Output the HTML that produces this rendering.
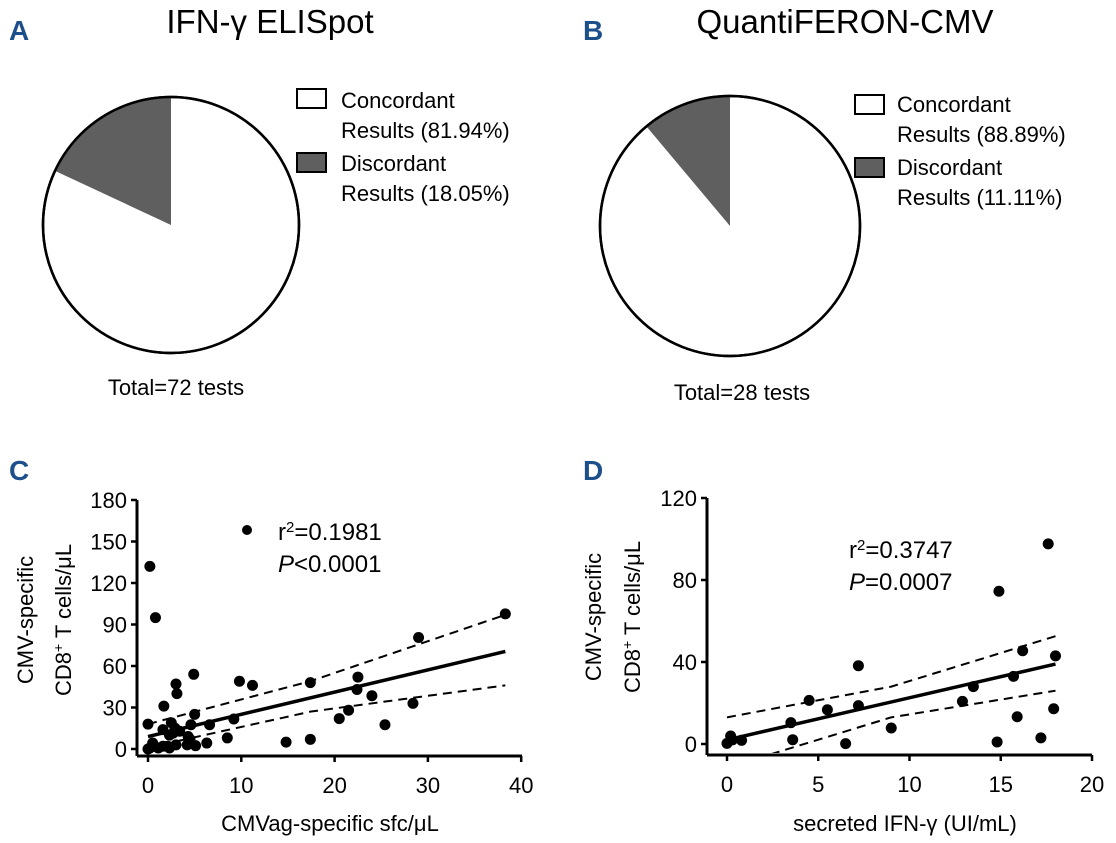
<!DOCTYPE html>
<html><head><meta charset="utf-8"><style>
body{margin:0;background:#fff;}
svg{display:block;font-family:"Liberation Sans",Arial,sans-serif;}
</style></head><body>
<svg id="fig" width="1116" height="843" viewBox="0 0 1116 843" xmlns="http://www.w3.org/2000/svg">
<g fill="#1d4f8a" font-weight="bold" font-size="28">
<text x="9" y="40">A</text>
<text x="583" y="40">B</text>
<text x="9" y="480">C</text>
<text x="583" y="480">D</text>
</g>
<text x="270" y="33" font-size="33" text-anchor="middle">IFN-γ ELISpot</text>
<text x="845" y="33" font-size="33" text-anchor="middle">QuantiFERON-CMV</text>
<g id="pieA"></g>
<g id="pieB"></g>
<g font-size="22">
<rect x="297" y="89" width="29" height="19" fill="#fff" stroke="#000" stroke-width="2"/>
<text x="341" y="108">Concordant</text>
<text x="341" y="138">Results (81.94%)</text>
<rect x="297" y="153" width="29" height="19" fill="#5f5f5f" stroke="#000" stroke-width="2"/>
<text x="341" y="171">Discordant</text>
<text x="341" y="201">Results (18.05%)</text>
<text x="176" y="395" text-anchor="middle">Total=72 tests</text>
<rect x="855" y="95" width="29" height="19" fill="#fff" stroke="#000" stroke-width="2"/>
<text x="897" y="112">Concordant</text>
<text x="897" y="142">Results (88.89%)</text>
<rect x="855" y="158" width="29" height="19" fill="#5f5f5f" stroke="#000" stroke-width="2"/>
<text x="897" y="175">Discordant</text>
<text x="897" y="205">Results (11.11%)</text>
<text x="742" y="400" text-anchor="middle">Total=28 tests</text>
</g>
<g id="chartC"></g>
<g id="chartD"></g>
<g font-size="22">
<text transform="translate(33,620) rotate(-90)" text-anchor="middle">CMV-specific</text>
<text transform="translate(71,620) rotate(-90)" text-anchor="middle">CD8<tspan baseline-shift="super" font-size="14">+</tspan> T cells/μL</text>
<text x="330" y="831" text-anchor="middle">CMVag-specific sfc/μL</text>
<text transform="translate(601,617) rotate(-90)" text-anchor="middle">CMV-specific</text>
<text transform="translate(640,617) rotate(-90)" text-anchor="middle">CD8<tspan baseline-shift="super" font-size="14">+</tspan> T cells/μL</text>
<text x="905" y="831" text-anchor="middle">secreted IFN-γ (UI/mL)</text>
</g>
<g font-size="24">
<circle cx="247" cy="530" r="5" fill="#000"/>
<text x="278" y="540">r<tspan baseline-shift="super" font-size="15">2</tspan>=0.1981</text>
<text x="278" y="572"><tspan font-style="italic">P</tspan>&lt;0.0001</text>
<text x="849" y="558">r<tspan baseline-shift="super" font-size="15">2</tspan>=0.3747</text>
<text x="849" y="590"><tspan font-style="italic">P</tspan>=0.0007</text>
</g>
</svg>
<script>
const pieAValues = [81.94, 18.05];
const pieBValues = [88.89, 11.11];

const cX = [0.2,0.8,38.3,29,4.9,3,3.1,1.7,9.8,11.2,17.4,22.5,22.4,24,21.5,20.5,28.4,25.4,14.8,17.4,8.5,9.2,6.3,6.6,5,4.6,0,1.6,2.5,2.9,2.7,3.4,2.3,3,4.3,4.5,4.2,5.1,0.2,0.5,1.1,1.6,2.1,0,0.7,2.3];
const cY = [132,95,97.7,80.6,54,47,40,31,49,46,48,52,43,38.5,28,22,33,17.5,5,7,8,21.7,4.3,17.5,25,17.5,18,14,19,15,11.5,12.8,10,3,9,7,3,2.4,0.7,4.3,0.7,2,2,0,2,0.7];
const cFitX = [0, 38.3];
const cFitY = [9, 70.5];
const cBandX = [0, 17.4, 38.3];
const cUpper = [18, 49, 97];
const cLower = [1, 27, 46];
const cXTicks = [0, 10, 20, 30, 40];
const cYTicks = [0, 30, 60, 90, 120, 150, 180];

const dX = [17.6,14.9,7.2,18,16.2,15.7,13.5,12.9,15.9,17.9,17.2,14.8,9,7.2,6.5,5.5,4.5,3.5,3.6,0.8,0.2,0,0.3];
const dY = [97.6,74.5,38.2,43,45.5,33,28,20.8,13.3,17.2,3,1,7.8,18.7,0.2,16.7,21.3,10.4,2.1,1.8,3.9,0.3,2];
const dFitX = [0, 18];
const dFitY = [2, 39];
const dUpperX = [0, 9, 18];
const dUpper = [13, 28, 52.6];
const dLowerX = [2.4, 9, 18];
const dLower = [-5, 13, 26];
const dXTicks = [0, 5, 10, 15, 20];
const dYTicks = [0, 40, 80, 120];

const NS = "http://www.w3.org/2000/svg";
function mk(parent, tag, attrs){const e=document.createElementNS(NS,tag);for(const k in attrs)e.setAttribute(k,attrs[k]);parent.appendChild(e);return e;}

function drawPie(gid, cx, cy, r, vals){
  const g=document.getElementById(gid);
  const total=vals.reduce((a,b)=>a+b,0);
  const base=mk(g,'circle',{cx:cx,cy:cy,r:r,fill:'#fff',stroke:'#000','stroke-width':2.5});
  
  
  const a=vals[1]/total*2*Math.PI;
  const x2=cx-r*Math.sin(a), y2=cy-r*Math.cos(a);
  const p=mk(g,'path',{d:`M${cx},${cy} L${cx},${cy-r} A${r},${r} 0 ${a>Math.PI?1:0} 0 ${x2},${y2} Z`,fill:'#5f5f5f'});
  
  
  mk(g,'circle',{cx:cx,cy:cy,r:r,fill:'none',stroke:'#000','stroke-width':2.5});
}
drawPie('pieA',171,225,128,pieAValues);
drawPie('pieB',730,226,130,pieBValues);

function drawScatter(gid, xs, ys, xAxis, yAxis, ax, xt, yt, fitX, fitY, upX, up, loX, lo, clipId){
  const g=document.getElementById(gid);
  const defs=mk(g,'defs',{});
  const cp=mk(defs,'clipPath',{id:clipId});
  mk(cp,'rect',{x:ax.x0,y:ax.yTop-10,width:ax.x1-ax.x0+5,height:ax.y0-ax.yTop+8});
  const xa=mk(g,'line',{x1:ax.x0,y1:ax.y0,x2:ax.x1,y2:ax.y0,stroke:'#000','stroke-width':3});
  
  
  const ya=mk(g,'line',{x1:ax.x0,y1:ax.y0,x2:ax.x0,y2:ax.yTop,stroke:'#000','stroke-width':3});
  
  
  xt.forEach(v=>{
    mk(g,'line',{x1:xAxis(v),y1:ax.y0,x2:xAxis(v),y2:ax.y0+6,stroke:'#000','stroke-width':2.5});
    const t=mk(g,'text',{x:xAxis(v),y:ax.y0+37,'text-anchor':'middle','font-size':22});
    t.textContent=v;
    
    
  });
  yt.forEach(v=>{
    mk(g,'line',{x1:ax.x0-6,y1:yAxis(v),x2:ax.x0,y2:yAxis(v),stroke:'#000','stroke-width':2.5});
    const t=mk(g,'text',{x:ax.x0-10,y:yAxis(v)+8,'text-anchor':'end','font-size':22});
    t.textContent=v;
    
    
  });
  const lg=mk(g,'g',{'clip-path':`url(#${clipId})`});
  const pts=(X,Y)=>X.map((x,i)=>xAxis(x)+','+yAxis(Y[i])).join(' ');
  const fl=mk(lg,'polyline',{points:pts(fitX,fitY),fill:'none',stroke:'#000','stroke-width':3.5});
  
  
  const ul=mk(lg,'polyline',{points:pts(upX,up),fill:'none',stroke:'#000','stroke-width':2,'stroke-dasharray':'9,6'});
  
  
  const ll=mk(lg,'polyline',{points:pts(loX,lo),fill:'none',stroke:'#000','stroke-width':2,'stroke-dasharray':'9,6'});
  
  
  xs.forEach((x,i)=>{
    const c=mk(g,'circle',{cx:xAxis(x),cy:yAxis(ys[i]),r:5.5,fill:'#000'});
    
    
  });
}
const xC=v=>148+v*9.33, yC=v=>749-v*249/180;
drawScatter('chartC',cX,cY,xC,yC,{x0:137,x1:522,y0:756,yTop:500},cXTicks,cYTicks,cFitX,cFitY,cBandX,cUpper,cBandX,cLower,'clipC');
const xD=v=>727+v*18.25, yD=v=>744-v*2.05;
drawScatter('chartD',dX,dY,xD,yD,{x0:707,x1:1092,y0:755,yTop:498},dXTicks,dYTicks,dFitX,dFitY,dUpperX,dUpper,dLowerX,dLower,'clipD');
</script>
</body></html>
